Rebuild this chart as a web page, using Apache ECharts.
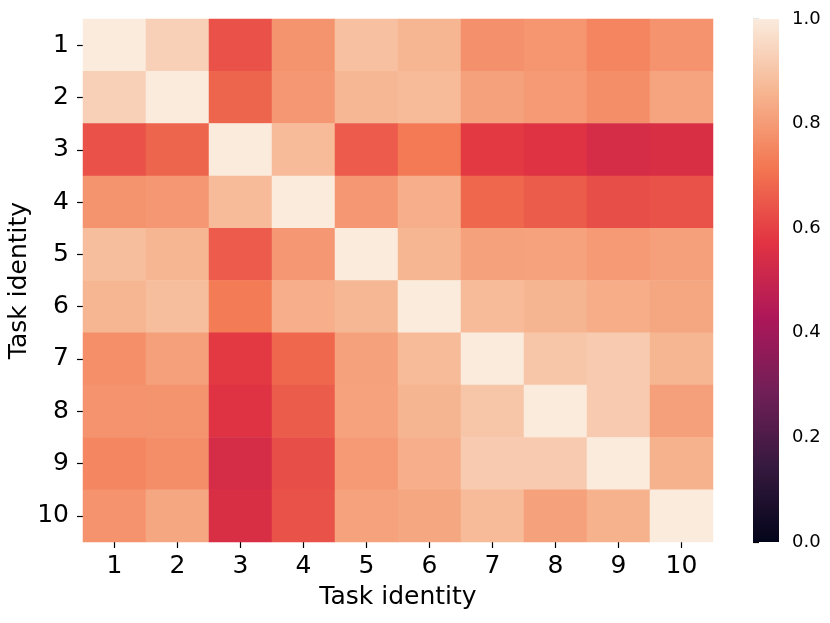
<!DOCTYPE html>
<html>
<head>
<meta charset="utf-8">
<script src="https://cdn.jsdelivr.net/npm/echarts@6/dist/echarts.min.js"></script>
<style>html,body{margin:0;padding:0;background:#fff}#c{width:830px;height:623px}</style>
</head>
<body>
<div id="c"></div>
<script>
var categories = ['1','2','3','4','5','6','7','8','9','10'];
var row1  = [1.000, 0.930, 0.635, 0.783, 0.888, 0.862, 0.776, 0.788, 0.749, 0.781];
var row2  = [0.930, 1.000, 0.678, 0.790, 0.867, 0.875, 0.813, 0.797, 0.769, 0.820];
var row3  = [0.635, 0.678, 1.000, 0.875, 0.656, 0.723, 0.584, 0.566, 0.539, 0.550];
var row4  = [0.783, 0.790, 0.875, 1.000, 0.790, 0.845, 0.684, 0.658, 0.629, 0.637];
var row5  = [0.883, 0.862, 0.656, 0.790, 1.000, 0.862, 0.813, 0.815, 0.797, 0.810];
var row6  = [0.862, 0.883, 0.726, 0.845, 0.867, 1.000, 0.875, 0.860, 0.841, 0.827];
var row7  = [0.772, 0.811, 0.584, 0.684, 0.813, 0.875, 1.000, 0.904, 0.917, 0.862];
var row8  = [0.781, 0.783, 0.566, 0.658, 0.815, 0.860, 0.904, 1.000, 0.917, 0.810];
var row9  = [0.751, 0.769, 0.539, 0.629, 0.797, 0.845, 0.917, 0.917, 1.000, 0.852];
var row10 = [0.781, 0.827, 0.550, 0.637, 0.815, 0.827, 0.875, 0.813, 0.852, 1.000];
var colorbarTicks = [0, 0.2, 0.4, 0.6, 0.8, 1.0];
var rocket = ['#03051A', '#35193E', '#701F57', '#AD1759', '#E13342', '#F37651', '#F6B48F', '#FAEBDD'];

var rows = [row1,row2,row3,row4,row5,row6,row7,row8,row9,row10];
var data = [];
rows.forEach(function(r, yi){ r.forEach(function(v, xi){ data.push([xi, yi, v]); }); });

// colour bar gradient (top = max, bottom = min)
var stops = rocket.map(function(c, i){ return {offset: 1 - i / (rocket.length - 1), color: c}; }).reverse();

var font = 'DejaVu Sans';
var cb = {left: 753, top: 19, width: 26, height: 523};
var chart = echarts.init(document.getElementById('c'), null, {renderer: 'canvas'});
chart.setOption({
  animation: false,
  backgroundColor: '#ffffff',
  grid: [
    {left: 83, top: 19, width: 630, height: 523, outerBoundsMode: 'none', containLabel: false},
    {left: cb.left, top: cb.top, width: cb.width, height: cb.height, outerBoundsMode: 'none', containLabel: false}
  ],
  xAxis: [
    {type: 'category', gridIndex: 0, data: categories,
     name: 'Task identity', nameLocation: 'middle', nameGap: 43, nameMoveOverlap: false,
     nameTextStyle: {fontFamily: font, fontSize: 25, color: '#000'},
     axisLine: {show: false},
     axisTick: {show: true, alignWithLabel: true, length: 6, lineStyle: {color: '#000', width: 1.2}},
     axisLabel: {fontFamily: font, fontSize: 25, color: '#000', margin: 12},
     splitLine: {show: false}},
    {type: 'value', gridIndex: 1, show: false, min: 0, max: 1}
  ],
  yAxis: [
    {type: 'category', gridIndex: 0, data: categories, inverse: true,
     name: 'Task identity', nameLocation: 'middle', nameGap: 51, nameRotate: 90, nameMoveOverlap: false,
     nameTextStyle: {fontFamily: font, fontSize: 25, color: '#000'},
     axisLine: {show: false},
     axisTick: {show: true, alignWithLabel: true, length: 6, lineStyle: {color: '#000', width: 1.2}},
     axisLabel: {fontFamily: font, fontSize: 25, color: '#000', margin: 14},
     splitLine: {show: false}},
    {type: 'value', gridIndex: 1, position: 'right', min: colorbarTicks[0], max: colorbarTicks[colorbarTicks.length-1], interval: 0.2,
     axisLine: {show: false},
     axisTick: {show: true, length: 6, lineStyle: {color: '#000', width: 1.2}},
     axisLabel: {fontFamily: font, fontSize: 18, color: '#000', margin: 13,
                 formatter: function(v){ return v.toFixed(1); }},
     splitLine: {show: false}}
  ],
  visualMap: {
    type: 'continuous', min: 0, max: 1, show: false, seriesIndex: 0,
    inRange: {color: rocket}
  },
  graphic: [{
    type: 'rect', left: cb.left, top: cb.top, z: 1,
    shape: {width: cb.width, height: cb.height},
    style: {fill: new echarts.graphic.LinearGradient(0, 0, 0, 1, stops), stroke: null}
  }],
  series: [{
    type: 'heatmap', xAxisIndex: 0, yAxisIndex: 0, data: data,
    itemStyle: {borderWidth: 0},
    emphasis: {disabled: true},
    label: {show: false}
  }]
});
</script>
</body>
</html>
